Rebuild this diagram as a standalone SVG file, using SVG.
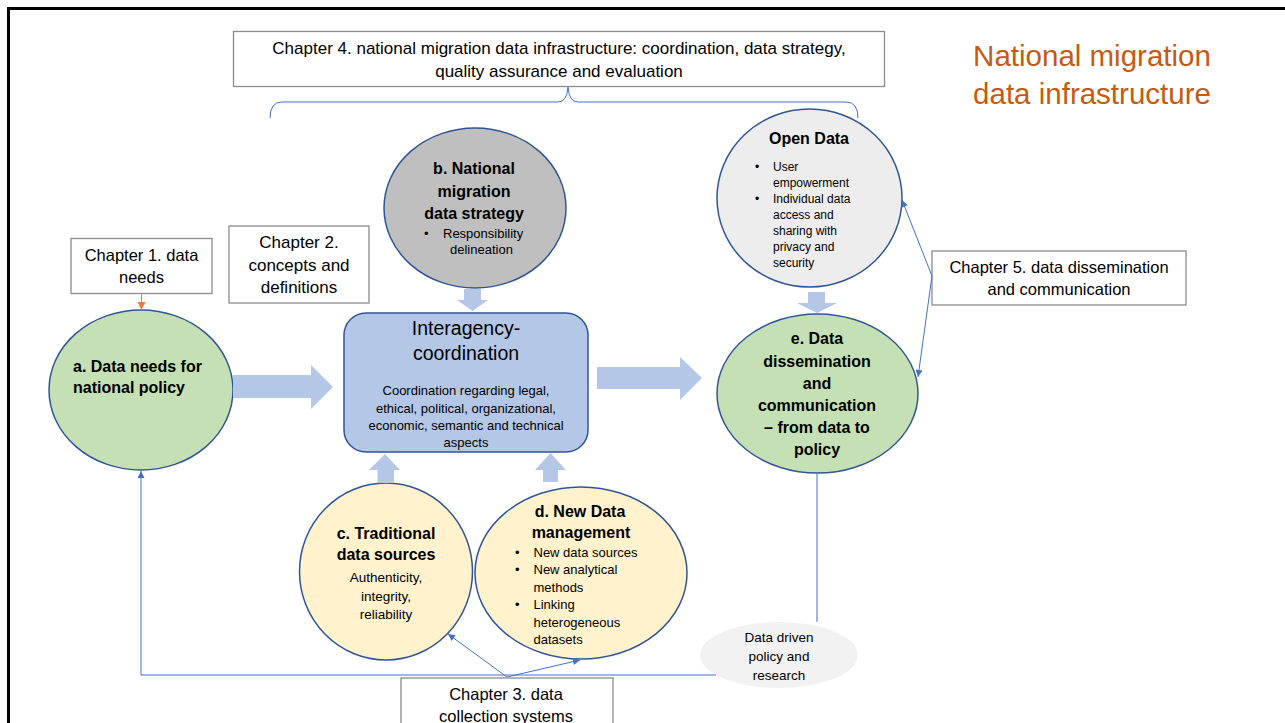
<svg xmlns="http://www.w3.org/2000/svg" width="1285" height="723" viewBox="0 0 1285 723">
<defs>
<style>
text{font-family:"Liberation Sans",Arial,sans-serif;fill:#000}
.c{text-anchor:middle}
.b{font-weight:bold;font-size:16px}
.box{fill:#fff;stroke:#8c8c8c;stroke-width:1.3}
.node{stroke:#2f5597;stroke-width:1.5}
.blk{fill:#b4c7e7;stroke:none}
.ln{fill:none;stroke:#4472c4;stroke-width:1}
.s12{font-size:12px}
.s13{font-size:13px}
.ch{font-size:16.5px}
</style>
<marker id="ah" markerUnits="userSpaceOnUse" viewBox="0 0 10 10" refX="10" refY="5" markerWidth="8" markerHeight="7" orient="auto">
<path d="M0,0 L10,5 L0,10 z" fill="#4472c4"/>
</marker>
<marker id="aho" markerUnits="userSpaceOnUse" viewBox="0 0 10 10" refX="10" refY="5" markerWidth="8" markerHeight="8" orient="auto">
<path d="M0,0 L10,5 L0,10 z" fill="#ed7d31"/>
</marker>
</defs>
<rect x="0" y="0" width="1285" height="723" fill="#fff"/>
<rect x="8.5" y="8.5" width="1300" height="740" fill="none" stroke="#000" stroke-width="3"/>

<text class="c" x="1092" y="66" font-size="29.5" style="fill:#c55a11">National migration</text>
<text class="c" x="1092" y="104" font-size="29.5" style="fill:#c55a11">data infrastructure</text>

<g id="ch4">
<rect class="box" x="233.5" y="31.5" width="651" height="55"/>
<text class="c" x="559" y="54" font-size="17">Chapter 4. national migration data infrastructure: coordination, data strategy,</text>
<text class="c" x="559" y="76.5" font-size="17">quality assurance and evaluation</text>
</g>

<g id="ch1">
<rect class="box" x="71" y="238.5" width="141" height="55"/>
<text class="c ch" x="141.5" y="261">Chapter 1. data</text>
<text class="c ch" x="141.5" y="283">needs</text>
</g>

<g id="ch2">
<rect class="box" x="229" y="226" width="140" height="77"/>
<text class="c" x="299" y="248" font-size="17">Chapter 2.</text>
<text class="c" x="299" y="271" font-size="17">concepts and</text>
<text class="c" x="299" y="293" font-size="17">definitions</text>
</g>

<g id="ch5">
<rect class="box" x="932" y="251" width="254" height="54"/>
<text class="c ch" x="1059" y="273">Chapter 5. data dissemination</text>
<text class="c ch" x="1059" y="295">and communication</text>
</g>

<g id="ch3">
<rect class="box" x="401" y="678" width="212" height="80"/>
<text class="c ch" x="506" y="700">Chapter 3. data</text>
<text class="c ch" x="506" y="722">collection systems</text>
</g>

<g id="node-b">
<ellipse class="node" cx="475" cy="208" rx="91" ry="80" fill="#bfbfbf"/>
<text class="c b" x="474" y="174" font-size="16.5">b. National</text>
<text class="c b" x="474" y="196.5">migration</text>
<text class="c b" x="474" y="219">data strategy</text>
<text class="s13" x="424" y="238">•</text>
<text class="s13" x="443" y="238">Responsibility</text>
<text class="s13" x="450" y="254">delineation</text>
</g>

<g id="node-coord">
<rect class="node" x="344" y="313" width="244" height="139" rx="22" fill="#b4c7e7"/>
<text class="c" x="466" y="335" font-size="19.5">Interagency-</text>
<text class="c" x="466" y="360" font-size="19.5">coordination</text>
<text class="c s13" x="466" y="395">Coordination regarding legal,</text>
<text class="c s13" x="466" y="412.5">ethical, political, organizational,</text>
<text class="c s13" x="466" y="430">economic, semantic and technical</text>
<text class="c s13" x="466" y="447">aspects</text>
</g>

<g id="node-a">
<ellipse class="node" cx="141" cy="390" rx="92" ry="80" fill="#c5e0b4"/>
<text class="b" x="73" y="372">a. Data needs for</text>
<text class="b" x="73" y="393">national policy</text>
</g>

<g id="node-opendata">
<ellipse class="node" cx="809.5" cy="198" rx="92.5" ry="89" fill="#ededed"/>
<text class="c b" x="809" y="144">Open Data</text>
<text class="s12" x="755" y="171">•</text>
<text class="s12" x="773" y="171">User</text>
<text class="s12" x="773" y="187">empowerment</text>
<text class="s12" x="755" y="203">•</text>
<text class="s12" x="773" y="203">Individual data</text>
<text class="s12" x="773" y="219">access and</text>
<text class="s12" x="773" y="235">sharing with</text>
<text class="s12" x="773" y="251">privacy and</text>
<text class="s12" x="773" y="267">security</text>
</g>

<g id="node-e">
<ellipse class="node" cx="817.5" cy="393.5" rx="100.5" ry="79.5" fill="#c5e0b4"/>
<text class="c b" x="817" y="344">e. Data</text>
<text class="c b" x="817" y="367">dissemination</text>
<text class="c b" x="817" y="389">and</text>
<text class="c b" x="817" y="411">communication</text>
<text class="c b" x="817" y="433">– from data to</text>
<text class="c b" x="817" y="455">policy</text>
</g>

<g id="node-c">
<ellipse class="node" cx="386" cy="571.5" rx="86.5" ry="88.5" fill="#fff2cc"/>
<text class="c b" x="386" y="538.5">c. Traditional</text>
<text class="c b" x="386" y="560">data sources</text>
<text class="c" x="386" y="582" font-size="13.5">Authenticity,</text>
<text class="c" x="386" y="600.5" font-size="13.5">integrity,</text>
<text class="c" x="386" y="618.5" font-size="13.5">reliability</text>
</g>

<g id="node-d">
<ellipse class="node" cx="581" cy="573" rx="106" ry="86" fill="#fff2cc"/>
<text class="c b" x="580" y="517">d. New Data</text>
<text class="c b" x="581" y="537.5">management</text>
<text class="s13" x="515" y="557">•</text>
<text class="s13" x="533.5" y="557">New data sources</text>
<text class="s13" x="515" y="574">•</text>
<text class="s13" x="533.5" y="574">New analytical</text>
<text class="s13" x="533.5" y="591.5">methods</text>
<text class="s13" x="515" y="608.5">•</text>
<text class="s13" x="533.5" y="608.5">Linking</text>
<text class="s13" x="533.5" y="626.5">heterogeneous</text>
<text class="s13" x="533.5" y="644">datasets</text>
</g>

<g id="node-datadriven">
<ellipse cx="779" cy="655" rx="79" ry="33" fill="#f2f2f2"/>
<text class="c" x="779" y="642" font-size="13.5">Data driven</text>
<text class="c" x="779" y="661" font-size="13.5">policy and</text>
<text class="c" x="779" y="680" font-size="13.5">research</text>
</g>

<g id="connectors">
<path class="ln" d="M270,118 Q270,102 282,102 L558,102 Q567,102 568,87 Q569,102 578,102 L846,102 Q858,102 858,118"/>
<line x1="141.5" y1="293.5" x2="141.5" y2="310" stroke="#ed7d31" stroke-width="1" marker-end="url(#aho)"/>
<polyline class="ln" points="716,675 141,675 141,471" marker-end="url(#ah)"/>
<line class="ln" x1="817" y1="473" x2="817" y2="622"/>
<line class="ln" x1="507" y1="677" x2="448" y2="634" marker-end="url(#ah)"/>
<line class="ln" x1="507" y1="677" x2="580" y2="660" marker-end="url(#ah)"/>
<line class="ln" x1="932" y1="276" x2="902" y2="200" marker-end="url(#ah)"/>
<line class="ln" x1="932" y1="276" x2="918" y2="377" marker-end="url(#ah)"/>
<polygon class="blk" points="233,375 311,375 311,365 333,387 311,409 311,398 233,398"/>
<polygon class="blk" points="597,367 680,367 680,357 702,378 680,400 680,389 597,389"/>
<polygon class="blk" points="464,289 481,289 481,300 488,300 472.5,311 457,300 464,300"/>
<polygon class="blk" points="808,292 825,292 825,303 837,303 817,313 797,303 808,303"/>
<polygon class="blk" points="377.5,483 394,483 394,470 400,470 385,454 369,470 377.5,470"/>
<polygon class="blk" points="543,482 558,482 558,470 566,470 550.5,453 535,470 543,470"/>
</g>
</svg>
